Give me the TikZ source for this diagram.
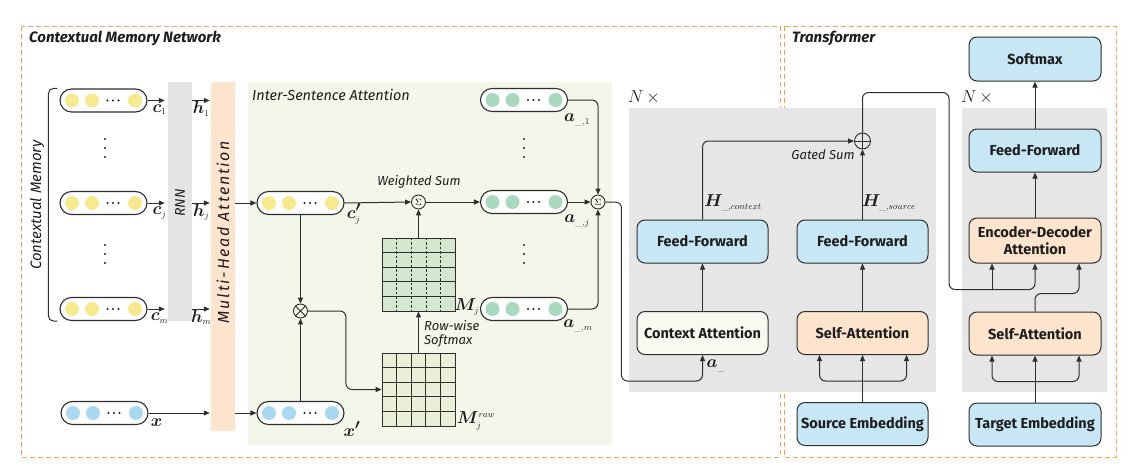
\documentclass[tikz,border=0pt]{standalone}
\usepackage{fontspec}
\usepackage{amsmath}
\usepackage{bm}
\setsansfont{Fira Sans}
\usetikzlibrary{arrows.meta,positioning,calc}

\definecolor{moldura}{HTML}{ECA553}
\definecolor{traco}{HTML}{2E2E2E}
\definecolor{texto}{HTML}{1E1E1E}
\definecolor{cinzabarra}{HTML}{E3E4E6}
\definecolor{cinzabloco}{HTML}{E6E6E6}
\definecolor{pessego}{HTML}{FDE4CD}
\definecolor{azul}{HTML}{C8E7F5}
\definecolor{verdeclaro}{HTML}{F3F7EA}
\definecolor{creme}{HTML}{F8F9F0}
\definecolor{amarelo}{HTML}{F8E98E}
\definecolor{azulbola}{HTML}{A9D9F0}
\definecolor{verdebola}{HTML}{A8D8BE}
\definecolor{matraw}{HTML}{E9F0D8}
\definecolor{matj}{HTML}{D3E8CF}

\begin{document}
\begin{tikzpicture}[x=1pt, y=-1pt, >={Triangle[length=6pt,width=5pt]},
    seta/.style={draw=traco, line width=1pt, ->},
    capsula/.style={draw=traco, line width=1.1pt, fill=white, rounded corners=11.5pt,
        minimum width=87pt, minimum height=23pt, inner sep=0pt},
    caixa/.style={draw=traco, line width=1pt, rounded corners=8pt,
        minimum width=131pt, minimum height=43pt, inner sep=0pt, align=center,
        font=\sffamily\bfseries\fontsize{14.5}{17}\selectfont, text=texto},
    rotulo/.style={font=\sffamily\itshape\fontsize{13}{14}\selectfont, text=texto, inner sep=0pt},
    titulo/.style={font=\sffamily\bfseries\itshape\fontsize{15}{17}\selectfont, text=texto, inner sep=0pt},
    mat/.style={font=\fontsize{19}{22}\selectfont, text=texto, inner sep=0pt},
    somador/.style={circle, draw=traco, line width=0.9pt, minimum size=14pt, inner sep=0pt,
        font=\fontsize{9}{9}\selectfont},
    matriz/.style={draw=traco, line width=0.9pt, minimum size=73pt, inner sep=0pt}]

    \useasboundingbox (0,0) rectangle (1141,466);

    % molduras tracejadas
    \draw[moldura, line width=1pt, dash pattern=on 5pt off 3pt] (21,26) rectangle (780,457);
    \draw[moldura, line width=1pt, dash pattern=on 5pt off 3pt] (784,26) rectangle (1116,457);
    \node[titulo, anchor=west] (tcmn) at (29,38) {Contextual Memory Network};
    \node[titulo, anchor=west] (ttrans) at (792,38) {Transformer};

    % regiões de fundo
    \fill[verdeclaro] (248,82) rectangle (612,445);
    \fill[cinzabloco] (629,108) rectangle (936,392);
    \fill[cinzabloco] (962,108) rectangle (1107,392);
    \node[rotulo, anchor=west, font=\sffamily\itshape\fontsize{14.5}{16}\selectfont] (tisa) at (252,95) {Inter-Sentence Attention};
    \node[mat, font=\fontsize{16}{18}\selectfont] (nenc) at (644,97) {$N\,\times$};
    \node[mat, font=\fontsize{16}{18}\selectfont] (ndec) at (977,97) {$N\,\times$};

    % barras RNN e multi-head
    \node[fill=cinzabarra, minimum width=24pt, minimum height=239pt, inner sep=0pt] (rnn) at (180,201.5) {};
    \node[rotulo, rotate=90, font=\sffamily\itshape\fontsize{14}{16}\selectfont] (trnn) at (180,203) {RNN};
    \node[fill=pessego, minimum width=24pt, minimum height=349pt, inner sep=0pt] (mha) at (223,256.5) {};
    \node[rotulo, rotate=90, font=\sffamily\itshape\fontsize{16}{17}\selectfont\addfontfeature{LetterSpace=11}] (tmha) at (223,232) {Multi-Head Attention};

    % cápsulas com bolinhas
    \foreach \nome/\xx/\yy/\cor in {c1/103.5/100.5/amarelo, cj/103.5/203/amarelo, cm/103.5/309/amarelo,
            xin/104.5/413/azulbola, cjp/300.5/203/amarelo, xp/300.5/413/azulbola,
            a1/524/100/verdebola, aj/524/202/verdebola, am/524/309/verdebola}{
        \node[capsula] (\nome) at (\xx,\yy) {};
        \foreach \dx in {-31.5,-11.5,31.5}
            \fill[\cor] ([xshift=\dx pt]\nome.center) circle (7pt);
        \foreach \dx in {4,9.5,15}
            \fill[texto] ([xshift=\dx pt]\nome.center) circle (1.1pt);
    }

    % reticências verticais
    \foreach \xx in {105,524}
        \foreach \yy in {139,148,157,245,254,263}
            \fill[texto] (\xx,\yy) circle (1.2pt);

    % chave da memória contextual
    \draw[traco, line width=1pt, rounded corners=5pt] ([xshift=-2pt]c1.north west) -- ++(-9,0)
        |- ([xshift=-2pt]cm.south west);
    \node[rotulo, rotate=90, font=\sffamily\itshape\fontsize{15}{16}\selectfont] (tcm) at (37,205) {Contextual Memory};

    % entradas na RNN e na atenção
    \foreach \nome/\ind in {c1/1, cj/j, cm/m}{
        \draw[seta, shorten >=3pt] (\nome.east) -- (rnn.west |- \nome.east);
        \draw[seta, shorten >=1pt] (rnn.east |- \nome.east) -- (mha.west |- \nome.east);
        \node[mat, below=4pt] (lc\nome) at ([xshift=12pt]\nome.east) {$\bm{c}_{\scriptscriptstyle\ind}$};
        \node[mat, below=1pt] (lh\nome) at (rnn.east |- \nome.east) [xshift=9pt] {$\bm{h}_{\scriptscriptstyle\ind}$};
    }
    \draw[seta, shorten >=1pt] (xin.east) -- (mha.west |- xin.east);
    \node[mat, below=6pt] (lx) at ([xshift=8pt]xin.east) {$\bm{x}$};
    \draw[seta] (mha.east |- cjp.west) -- (cjp.west);
    \draw[seta] (mha.east |- xp.west) -- (xp.west);
    \node[mat] (lcjp) at (354,214) {$\bm{c}_{\scriptscriptstyle j}\bm{'}$};
    \node[mat] (lxp) at (352,429) {$\bm{x}\bm{'}$};

    % produto e matrizes
    \node[somador] (mul) at (300.5,311) {};
    \draw[traco, line width=0.8pt] (mul.north west) -- (mul.south east) (mul.north east) -- (mul.south west);
    \draw[seta] (cjp.south) -- (mul.north);
    \draw[seta] (xp.north) -- (mul.south);

    \node[matriz, fill=matraw] (mraw) at (418.5,389.5) {};
    \foreach \i in {1,...,4}{
        \draw[traco, line width=0.9pt] ($(mraw.north west)!\i/5!(mraw.north east)$) -- ($(mraw.south west)!\i/5!(mraw.south east)$);
        \draw[traco, line width=0.9pt] ($(mraw.north west)!\i/5!(mraw.south west)$) -- ($(mraw.north east)!\i/5!(mraw.south east)$);
    }
    \node[matriz, fill=matj] (mj) at (418.5,274.5) {};
    \foreach \i in {1,...,4}{
        \draw[traco, line width=0.6pt, dash pattern=on 2.5pt off 2pt] ($(mj.north west)!\i/5!(mj.north east)$) -- ($(mj.south west)!\i/5!(mj.south east)$);
        \draw[traco, line width=0.9pt] ($(mj.north west)!\i/5!(mj.south west)$) -- ($(mj.north east)!\i/5!(mj.south east)$);
    }
    \node[mat] (lmj) at (467,307) {$\bm{M}_{\scriptscriptstyle j}$};
    \node[mat] (lmraw) at (476,421) {$\bm{M}_{\scriptscriptstyle j}^{\scriptscriptstyle raw}$};
    \node[rotulo, align=left, anchor=west] (lrow) at (424,334) {Row-wise\\Softmax};

    \draw[seta, rounded corners=6pt] (mul.east) -- ++(38,0) |- (mraw.west);
    \draw[seta] (mraw.north) -- (mj.south);

    % soma ponderada
    \node[somador] (wsum) at (418.5,202) {$\Sigma$};
    \node[rotulo] (lws) at (419,182) {Weighted Sum};
    \draw[seta] (mj.north) -- (wsum.south);
    \draw[seta] (cjp.east) -- (wsum.west);
    \draw[seta] (wsum.east) -- (aj.west);

    % soma das atenções
    \node[somador] (sum2) at (598,202) {$\Sigma$};
    \draw[seta, rounded corners=6pt] (a1.east) -| (sum2.north);
    \draw[seta] (aj.east) -- (sum2.west);
    \draw[seta, rounded corners=6pt] (am.east) -| (sum2.south);
    \node[mat] (la1) at (577,120) {$\bm{a}_{\scriptscriptstyle\_,1}$};
    \node[mat] (laj) at (577,221) {$\bm{a}_{\scriptscriptstyle\_,j}$};
    \node[mat] (lam) at (578,326) {$\bm{a}_{\scriptscriptstyle\_,m}$};

    % codificador com contexto
    \node[caixa, fill=azul] (ffc) at (702.5,241.5) {Feed-Forward};
    \node[caixa, fill=creme] (ctxatt) at (702.5,333) {Context Attention};
    \node[caixa, fill=azul] (ffs) at (862.5,241.5) {Feed-Forward};
    \node[caixa, fill=pessego] (sa) at (862.5,333) {Self-Attention};
    \node[caixa, fill=azul] (srcemb) at (862.5,424) {Source Embedding};
    \node[somador, minimum size=16pt] (gsum) at (862.5,141) {};
    \draw[traco, line width=0.8pt] (gsum.north) -- (gsum.south) (gsum.west) -- (gsum.east);
    \node[rotulo] (lgs) at (823,155) {Gated Sum};

    \draw[seta, rounded corners=6pt] (sum2.east) -- ++(16,0) |- ([yshift=-26pt]ctxatt.south) -- (ctxatt.south);
    \node[mat] (la) at (716,366) {$\bm{a}_{\scriptscriptstyle\_}$};
    \draw[seta] (ctxatt.north) -- (ffc.south);
    \draw[seta, rounded corners=6pt] (ffc.north) |- (gsum.west);
    \node[mat] (lhc) at (733,203) {$\bm{H}_{\scriptscriptstyle\_,context}$};
    \draw[seta] (sa.north) -- (ffs.south);
    \draw[seta] (ffs.north) -- (gsum.south);
    \node[mat] (lhs) at (889,203) {$\bm{H}_{\scriptscriptstyle\_,source}$};
    \draw[seta] (srcemb.north) -- (sa.south);
    \draw[seta, rounded corners=6pt] ([yshift=-26pt]sa.south) -| ([xshift=-43pt]sa.south);
    \draw[seta, rounded corners=6pt] ([yshift=-26pt]sa.south) -| ([xshift=44pt]sa.south);

    % decodificador
    \node[caixa, fill=azul, minimum width=132pt, minimum height=44pt] (softmax) at (1035,59) {Softmax};
    \node[caixa, fill=azul, minimum width=132pt] (ffd) at (1035,150.5) {Feed-Forward};
    \node[caixa, fill=pessego, minimum width=132pt, minimum height=45pt] (encdec) at (1035,240.5) {Encoder-Decoder\\Attention};
    \node[caixa, fill=pessego, minimum width=132pt] (sad) at (1035,333.5) {Self-Attention};
    \node[caixa, fill=azul, minimum width=132pt] (tgt) at (1035,424.5) {Target Embedding};

    \draw[seta] (ffd.north) -- (softmax.south);
    \draw[seta] (encdec.north) -- (ffd.south);
    \draw[seta, rounded corners=6pt] (gsum.north) -- ++(0,-40) -| ([xshift=-86pt,yshift=-26pt]encdec.south) -| (encdec.south);
    \draw[seta] ([xshift=-43pt,yshift=-26pt]encdec.south) -- ([xshift=-43pt]encdec.south);
    \draw[seta, rounded corners=6pt] (sad.north) |- ([xshift=44pt,yshift=-30pt]encdec.south) -- ([xshift=44pt]encdec.south);
    \draw[seta] (tgt.north) -- (sad.south);
    \draw[seta, rounded corners=6pt] ([yshift=-26pt]sad.south) -| ([xshift=-43pt]sad.south);
    \draw[seta, rounded corners=6pt] ([yshift=-26pt]sad.south) -| ([xshift=44pt]sad.south);

\end{tikzpicture}
\end{document}
